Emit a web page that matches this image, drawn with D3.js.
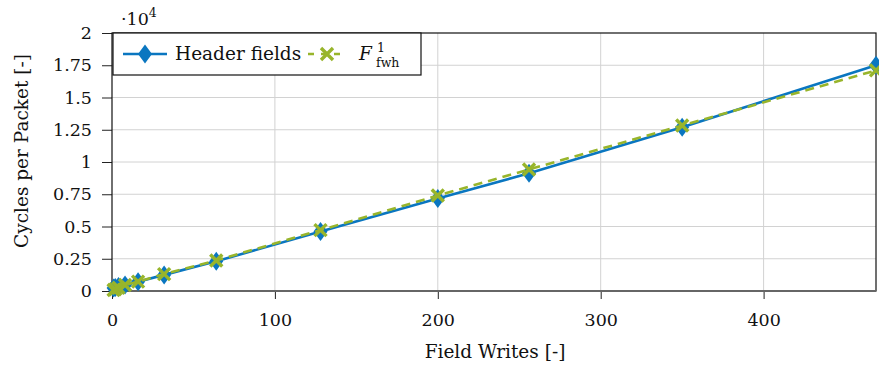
<!DOCTYPE html>
<html>
<head>
<meta charset="utf-8">
<script src="https://cdn.jsdelivr.net/npm/d3@7"></script>
<style>
  html, body { margin: 0; padding: 0; background: #fff; }
  svg { display: block; }
  text { font-family: "DejaVu Serif", serif; fill: #111; }
</style>
</head>
<body>
<svg id="chart" width="879" height="370"></svg>
<script>
// Field writes per packet (x) and measured / modelled cycles per packet (y)
const fieldWrites   = [1, 2, 4, 8, 16, 32, 64, 128, 200, 256, 350, 469];
const headerCycles  = [230, 280, 350, 470, 720, 1250, 2300, 4620, 7180, 9120, 12700, 17500];
const fwhCycles     = [80, 140, 250, 460, 730, 1310, 2370, 4720, 7400, 9420, 12830, 17100];

const xTickValues = [0, 100, 200, 300, 400];
const yTickValues = [0, 2500, 5000, 7500, 10000, 12500, 15000, 17500, 20000];
const yTickLabels = ["0", "0.25", "0.5", "0.75", "1", "1.25", "1.5", "1.75", "2"];

const seriesNames = ["Header fields", "F"];
const blue = "#0a76c0";
const green = "#98b52b";
const serif = "DejaVu Serif";

const svg = d3.select("#chart");
const plotL = 112, plotR = 876, plotT = 33, plotB = 291;

const x = d3.scaleLinear().domain([0, 469]).range([plotL, plotR]);
const y = d3.scaleLinear().domain([0, 20000]).range([plotB, plotT]);

// grid
const grid = svg.append("g").attr("stroke", "#d2d2d2").attr("stroke-width", 1);
grid.selectAll("line.gx").data(xTickValues.filter(d => d > 0)).join("line")
  .attr("x1", d => x(d)).attr("x2", d => x(d)).attr("y1", plotT).attr("y2", plotB);
grid.selectAll("line.gy").data(yTickValues.filter(d => d > 0 && d < 20000)).join("line")
  .attr("x1", plotL).attr("x2", plotR).attr("y1", d => y(d)).attr("y2", d => y(d));

// axes
const tickFont = 17.5;
const titleFont = 18.5;
const xAxis = d3.axisBottom(x).tickValues(xTickValues).tickSizeInner(8).tickSizeOuter(0).tickPadding(15)
  .tickFormat(d3.format("d"));
const gx = svg.append("g").attr("transform", `translate(0,${plotB})`).call(xAxis);
gx.select(".domain").remove();
gx.selectAll("text").attr("font-size", tickFont).attr("font-family", serif).attr("fill", "#111");
gx.selectAll("line").attr("stroke", "#222");

const yAxis = d3.axisLeft(y).tickValues(yTickValues).tickSizeInner(10).tickSizeOuter(0).tickPadding(10)
  .tickFormat((d, i) => yTickLabels[i]);
const gy = svg.append("g").attr("transform", `translate(${plotL},0)`).call(yAxis);
gy.select(".domain").remove();
gy.selectAll("text").attr("font-size", tickFont).attr("font-family", serif).attr("fill", "#111");
gy.selectAll("line").attr("stroke", "#222");

// frame
svg.append("rect").attr("x", plotL).attr("y", plotT).attr("width", plotR - plotL).attr("height", plotB - plotT)
  .attr("fill", "none").attr("stroke", "#111").attr("stroke-width", 1.2);
svg.append("line").attr("x1", plotL).attr("x2", plotR).attr("y1", plotB).attr("y2", plotB)
  .attr("stroke", "#666").attr("stroke-width", 2);

// axis titles
svg.append("text").attr("x", 495).attr("y", 358).attr("text-anchor", "middle")
  .attr("font-size", titleFont).text("Field Writes [-]");
svg.append("text").attr("transform", "translate(28,151) rotate(-90)").attr("text-anchor", "middle")
  .attr("font-size", titleFont).text("Cycles per Packet [-]");

// multiplier
const mult = svg.append("text").attr("x", 121).attr("y", 25).attr("font-size", tickFont);
mult.append("tspan").text("\u00b710");
mult.append("tspan").attr("dy", -8).attr("font-size", 12.5).text("4");

const pts = (vals) => fieldWrites.map((fx, i) => [fx, vals[i]]);
const line = d3.line().x(d => x(d[0])).y(d => y(d[1]));

const diamond = (cx, cy, w = 14, h = 19) =>
  `M${cx},${cy - h / 2}L${cx + w / 2},${cy}L${cx},${cy + h / 2}L${cx - w / 2},${cy}Z`;
const cross = (cx, cy, r = 6) =>
  `M${cx - r},${cy - r}L${cx + r},${cy + r}M${cx - r},${cy + r}L${cx + r},${cy - r}`;

// Header fields series
svg.append("path").datum(pts(headerCycles)).attr("d", line)
  .attr("fill", "none").attr("stroke", blue).attr("stroke-width", 2.6);
svg.append("g").selectAll("path").data(pts(headerCycles)).join("path")
  .attr("d", d => diamond(x(d[0]), y(d[1]))).attr("fill", blue);

// Model series
svg.append("path").datum(pts(fwhCycles)).attr("d", line)
  .attr("fill", "none").attr("stroke", green).attr("stroke-width", 2.6).attr("stroke-dasharray", "9,6");
svg.append("g").selectAll("path").data(pts(fwhCycles)).join("path")
  .attr("d", d => cross(x(d[0]), y(d[1]))).attr("stroke", green).attr("stroke-width", 3.4).attr("fill", "none");

// legend
const lg = svg.append("g");
lg.append("rect").attr("x", 113).attr("y", 33).attr("width", 308).attr("height", 42)
  .attr("fill", "#fff").attr("stroke", "#111").attr("stroke-width", 1.2);
const ly = 54;
lg.append("line").attr("x1", 123).attr("x2", 167).attr("y1", ly).attr("y2", ly)
  .attr("stroke", blue).attr("stroke-width", 2.6);
lg.append("path").attr("d", diamond(145, ly)).attr("fill", blue);
lg.append("text").attr("x", 175).attr("y", ly + 6).attr("font-size", titleFont).text(seriesNames[0]);
lg.append("line").attr("x1", 308).attr("x2", 347).attr("y1", ly).attr("y2", ly)
  .attr("stroke", green).attr("stroke-width", 2.6).attr("stroke-dasharray", "6,7");
lg.append("path").attr("d", cross(327, ly)).attr("stroke", green).attr("stroke-width", 3.4).attr("fill", "none");
const ft = lg.append("text").attr("x", 359).attr("y", ly + 6).attr("font-size", titleFont);
ft.append("tspan").attr("font-style", "italic").text(seriesNames[1]);
ft.append("tspan").attr("x", 377).attr("y", ly - 2).attr("font-size", 12.5).text("1");
ft.append("tspan").attr("x", 376).attr("y", ly + 13).attr("font-size", 12.5).text("fwh");
</script>
</body>
</html>
